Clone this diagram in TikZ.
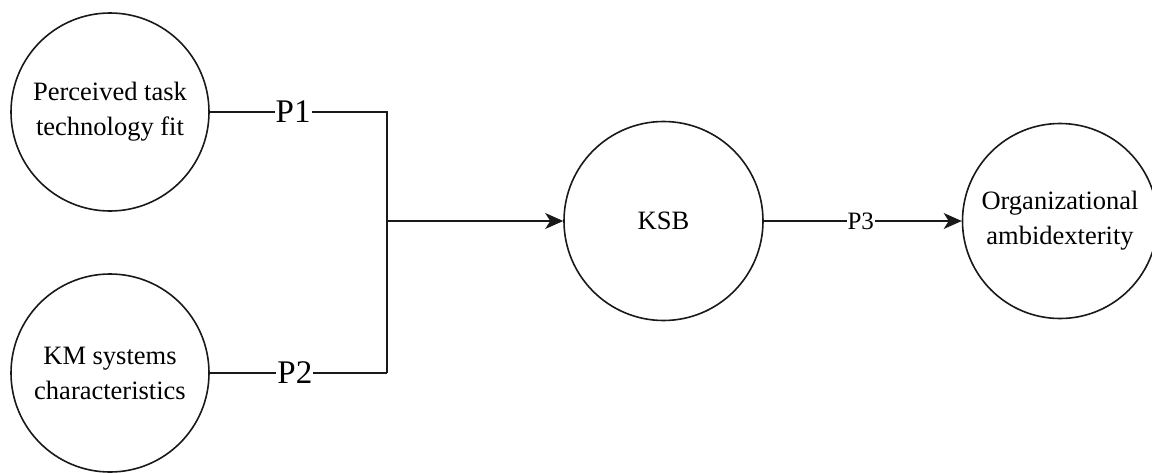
\documentclass[tikz,border=0pt]{standalone}
\usepackage{fontspec}
\setmainfont{Liberation Serif}
\usetikzlibrary{arrows.meta}
\begin{document}
\begin{tikzpicture}[x=1pt,y=-1pt,
  circ/.style={circle,draw=black!90,line width=1.6pt,minimum size=198pt,inner sep=0pt,align=center,
    font=\fontsize{26.5}{35}\selectfont},
  lbl/.style={fill=white,inner sep=1pt,font=\fontsize{33}{36}\selectfont},
  lbls/.style={fill=white,inner sep=1pt,font=\fontsize{25}{28}\selectfont},
  conn/.style={line width=1.6pt,draw=black!90},
  arr/.style={conn,-{Stealth[length=18pt,width=16pt,inset=5pt]}}]
\useasboundingbox (0,0) rectangle (1152,472);
\node[circ] (ptf) at (110,112) {Perceived task\\technology fit};
\node[circ] (kms) at (110,373) {KM systems\\characteristics};
\node[circ,minimum size=199pt] (ksb) at (663.5,221) {KSB};
\node[circ,minimum size=195pt] (oa) at (1060,221) {Organizational\\ambidexterity};
\coordinate (jt) at (387,112);
\coordinate (jb) at (387,373);
\coordinate (jm) at (387,221);
\draw[conn] (ptf) -- node[lbl,pos=0.47]{P1} (jt) -- (jb);
\draw[conn] (kms) -- node[lbl,pos=0.48]{P2} (jb);
\draw[arr] (jm) -- (ksb);
\draw[arr] (ksb) -- node[lbls,pos=0.49]{P3} (oa);
\end{tikzpicture}
\end{document}
